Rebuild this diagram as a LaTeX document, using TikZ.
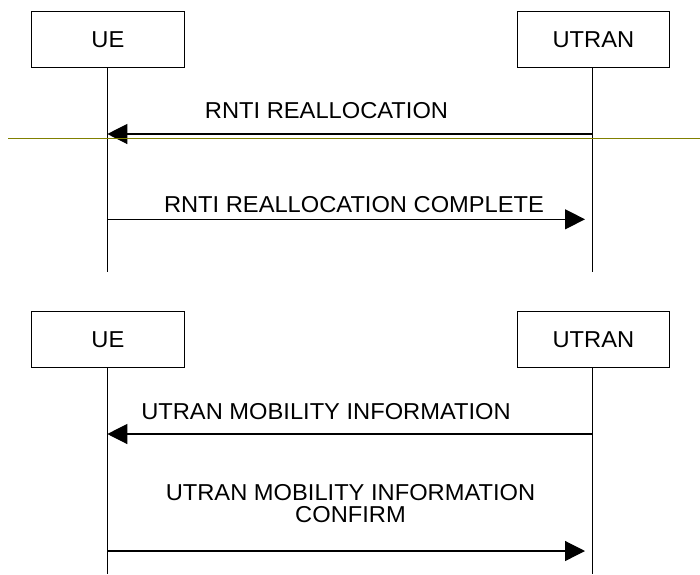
\documentclass[tikz,border=0pt]{standalone}
\usepackage{fontspec}
\setmainfont[FakeStretch=1.03]{Liberation Sans}
\usetikzlibrary{arrows.meta}
\begin{document}
\begin{tikzpicture}[x=1pt,y=-1pt,
  every node/.style={font=\fontsize{23}{22.3}\selectfont},
  entity/.style={draw,line width=1.3pt,minimum width=152.5pt,minimum height=55.8pt,inner sep=0pt,text depth=0pt},
  lifeline/.style={line width=1.2pt},
  msg/.style={line width=1.2pt,-{Triangle[length=20pt,width=20pt]}},
  lbl/.style={anchor=base,inner sep=0pt,align=center},
  marker/.style={draw={rgb,255:red,128;green,128;blue,0},line width=1.4pt}]
\useasboundingbox (0,0) rectangle (700,574);
% top diagram
\node[entity] (ue1) at (107.9,39.5) {UE};
\node[entity] (ut1) at (593.4,39.5) {UTRAN};
\coordinate (ue1end) at (107.3,272);
\coordinate (ut1end) at (592.7,272);
\draw[lifeline] (ue1.south -| ue1end) -- (ue1end);
\draw[lifeline] (ut1.south -| ut1end) -- (ut1end);
\coordinate (m1s) at (592.7,134);
\coordinate (m1e) at (107.3,134);
\coordinate (m2s) at (107.3,219.3);
\coordinate (m2e) at (585,219.3);
\draw[msg] (m1s) -- (m1e);
\draw[msg] (m2s) -- (m2e);
\node[lbl] (l1) at (326.5,118.3) {RNTI REALLOCATION};
\node[lbl] (l2) at (354,212.7) {RNTI REALLOCATION COMPLETE};
\coordinate (g1) at (8,138.7);
\coordinate (g2) at (700,138.7);
\draw[marker] (g1) -- (g2);
% bottom diagram
\node[entity] (ue2) at (107.9,339.7) {UE};
\node[entity] (ut2) at (593.4,339.7) {UTRAN};
\coordinate (ue2end) at (107.3,574);
\coordinate (ut2end) at (592.7,574);
\draw[lifeline] (ue2.south -| ue2end) -- (ue2end);
\draw[lifeline] (ut2.south -| ut2end) -- (ut2end);
\coordinate (m3s) at (592.7,434);
\coordinate (m3e) at (107.3,434);
\coordinate (m4s) at (107.3,551);
\coordinate (m4e) at (585,551);
\draw[msg] (m3s) -- (m3e);
\draw[msg] (m4s) -- (m4e);
\node[lbl] (l3) at (326,419) {UTRAN MOBILITY INFORMATION};
\node[lbl] (l4) at (350.5,522.3) {UTRAN MOBILITY INFORMATION\\CONFIRM};
\end{tikzpicture}
\end{document}
